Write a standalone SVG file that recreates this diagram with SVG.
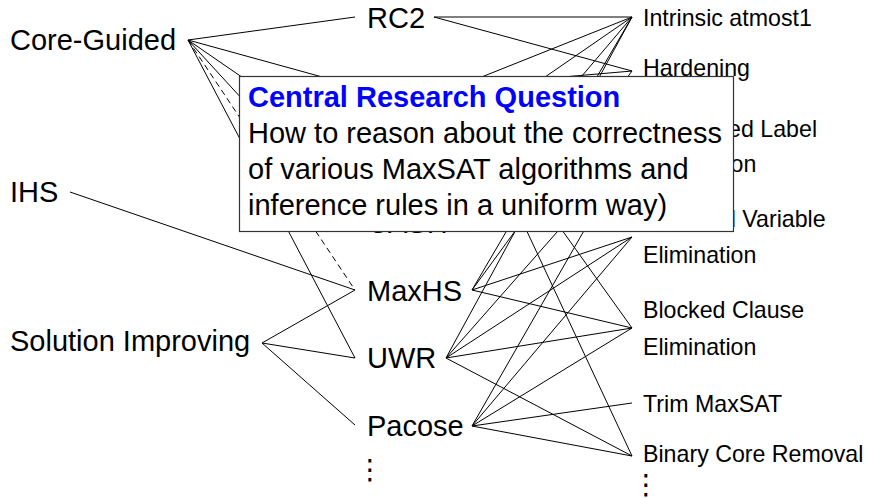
<svg xmlns="http://www.w3.org/2000/svg" width="871" height="499" viewBox="0 0 871 499">
<style>
.n{font-family:"Liberation Sans",Arial,sans-serif;font-size:29px;fill:#000}
.r{font-family:"Liberation Sans",Arial,sans-serif;font-size:23.2px;fill:#000}
.e{stroke:#000;stroke-width:1;fill:none}
.d{stroke-dasharray:6,4}
.dots{font-family:"DejaVu Sans",sans-serif;font-size:28px;fill:#000}
.tt{font-family:"Liberation Sans",Arial,sans-serif;font-size:29px;font-weight:bold;fill:#0000ff}
.bt{font-family:"Liberation Sans",Arial,sans-serif;font-size:29px;fill:#000}
</style>
<rect width="871" height="499" fill="#fff"/>
<g id="connectors">
<line class="e" x1="188" y1="40" x2="355" y2="17"/>
<line class="e" x1="188" y1="40" x2="355" y2="86"/>
<line class="e" x1="188" y1="40" x2="355" y2="155"/>
<line class="e" x1="188" y1="40" x2="355" y2="222"/>
<line class="e d" x1="188" y1="40" x2="355" y2="290"/>
<line class="e" x1="188" y1="40" x2="355" y2="358"/>
<line class="e" x1="70" y1="192" x2="355" y2="290"/>
<line class="e" x1="262" y1="343" x2="355" y2="290"/>
<line class="e" x1="262" y1="343" x2="355" y2="358"/>
<line class="e" x1="262" y1="343" x2="355" y2="425"/>
<line class="e" x1="434" y1="17" x2="632" y2="17"/>
<line class="e" x1="434" y1="17" x2="632" y2="71"/>
<line class="e" x1="459" y1="86" x2="632" y2="17"/>
<line class="e" x1="459" y1="86" x2="632" y2="71"/>
<line class="e" x1="459" y1="86" x2="632" y2="328"/>
<line class="e" x1="459" y1="86" x2="632" y2="456"/>
<line class="e" x1="432" y1="155" x2="632" y2="17"/>
<line class="e" x1="458" y1="222" x2="632" y2="17"/>
<line class="e" x1="472" y1="290" x2="632" y2="17"/>
<line class="e" x1="472" y1="290" x2="632" y2="71"/>
<line class="e" x1="472" y1="290" x2="632" y2="237"/>
<line class="e" x1="472" y1="290" x2="632" y2="328"/>
<line class="e" x1="446" y1="358" x2="632" y2="17"/>
<line class="e" x1="446" y1="358" x2="632" y2="147"/>
<line class="e" x1="446" y1="358" x2="632" y2="237"/>
<line class="e" x1="446" y1="358" x2="632" y2="328"/>
<line class="e" x1="446" y1="358" x2="632" y2="456"/>
<line class="e" x1="472" y1="426" x2="632" y2="147"/>
<line class="e" x1="472" y1="426" x2="632" y2="237"/>
<line class="e" x1="472" y1="426" x2="632" y2="328"/>
<line class="e" x1="472" y1="426" x2="632" y2="403"/>
<line class="e" x1="472" y1="426" x2="632" y2="456"/>
</g>
<g id="core-guided"><text class="n" x="10" y="50">Core-Guided</text></g>
<g id="ihs"><text class="n" x="10" y="202">IHS</text></g>
<g id="solution-improving"><text class="n" x="10" y="351">Solution Improving</text></g>
<g id="rc2"><text class="n" x="367" y="28">RC2</text></g>
<g id="cgss"><text class="n" x="367" y="96">CGSS</text></g>
<g id="oll"><text class="n" x="367" y="165">OLL</text></g>
<g id="cash"><text class="n" x="367" y="233">CASH</text></g>
<g id="maxhs"><text class="n" x="367" y="301">MaxHS</text></g>
<g id="uwr"><text class="n" x="367" y="368">UWR</text></g>
<g id="pacose"><text class="n" x="367" y="436">Pacose</text></g>
<g id="mid-more"><text class="dots" x="356" y="479">⋮</text></g>
<g id="intrinsic"><text class="r" x="643" y="26">Intrinsic atmost1</text></g>
<g id="hardening"><text class="r" x="643" y="76">Hardening</text></g>
<g id="sle"><text class="r" x="643" y="137">Subsumed Label</text><text class="r" x="643" y="172">Elimination</text></g>
<g id="bve"><text class="r" x="643" y="227">Bounded Variable</text><text class="r" x="643" y="263">Elimination</text></g>
<g id="bce"><text class="r" x="643" y="318">Blocked Clause</text><text class="r" x="643" y="355">Elimination</text></g>
<g id="trim"><text class="r" x="643" y="412">Trim MaxSAT</text></g>
<g id="bcr"><text class="r" x="643" y="462">Binary Core Removal</text></g>
<g id="right-more"><text class="dots" x="632" y="494">⋮</text></g>
<g id="question">
<rect x="239.5" y="76.5" width="494" height="155" fill="#fff" stroke="#333" stroke-width="1.2"/>
<text class="tt" x="248" y="107">Central Research Question</text>
<text class="bt" x="248" y="143">How to reason about the correctness</text>
<text class="bt" x="248" y="179">of various MaxSAT algorithms and</text>
<text class="bt" x="248" y="215">inference rules in a uniform way)</text>
</g>
</svg>
